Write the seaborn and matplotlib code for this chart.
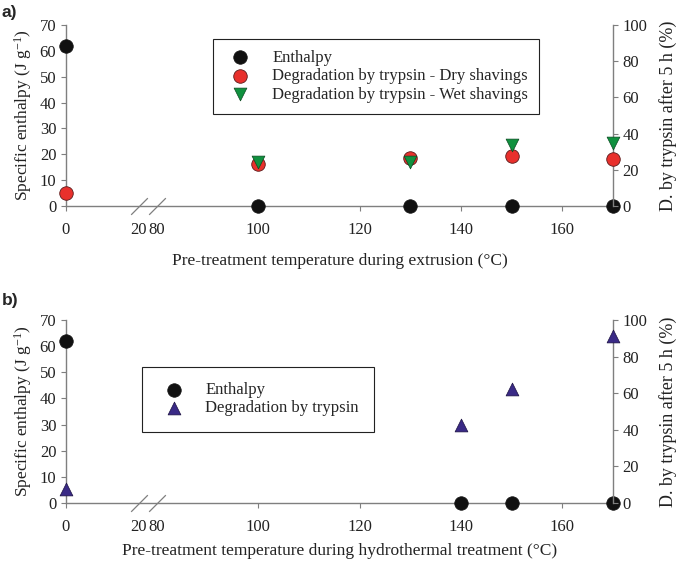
import numpy as np
import pandas as pd
import seaborn as sns
import matplotlib.pyplot as plt
from matplotlib.path import Path

# panel a - extrusion
temp_a = [0, 100, 130, 150, 170]
enthalpy_a = [62, 0, 0, 0, 0]
dry_a = [7, 23, 26.5, 27.5, 26]
wet_a = [None, 24.5, 24.5, 33.5, 35]

# panel b - hydrothermal
temp_b = [0, 140, 150, 170]
enthalpy_b = [62, 0, 0, 0]
tryp_b = [7.5, 42.5, 62.5, 91]

xticks = [0, 20, 80, 100, 120, 140, 160]
xlabels = ["0", "20", "80", "100", "120", "140", "160"]

sns.set_style("ticks")
plt.rcParams['font.family'] = ['Liberation Serif', 'DejaVu Serif']
plt.rcParams['font.size'] = 12
plt.rcParams['mathtext.fontset'] = 'custom'
plt.rcParams['mathtext.rm'] = 'Liberation Serif'
plt.rcParams['mathtext.it'] = 'Liberation Serif:italic'
plt.rcParams['axes.unicode_minus'] = False

# broken x axis: 0-20 squeezed, then gap, then 80-170
brk_in = [0, 20, 80, 170]
brk_out = [0, 14.4, 17.96, 107.96]
def fwd(x):
    return np.interp(x, brk_in, brk_out)
def inv(x):
    return np.interp(x, brk_out, brk_in)

gray = '#7f7f7f'
txt = '#222222'
red = '#e8302c'
green = '#10913f'
purple = '#3a2a86'

slash = Path([(-1, -1), (1, 1)], [Path.MOVETO, Path.LINETO])

fig = plt.figure(figsize=(6.85, 5.64), dpi=100)

def setup(ax, ax2, xlabel, xpad):
    ax.set_xscale('function', functions=(fwd, inv))
    ax.set_xlim(0, 170)
    ax.set_ylim(0, 70)
    ax2.set_ylim(0, 100)
    ax.set_xticks(xticks)
    ax.set_xticklabels(xlabels)
    ax.set_yticks(range(0, 71, 10))
    ax2.set_yticks(range(0, 101, 20))
    for a in (ax, ax2):
        a.spines['top'].set_visible(False)
        for s in a.spines.values():
            s.set_color(gray)
            s.set_linewidth(1.0)
        a.tick_params(colors=gray, labelcolor=txt, length=3.5, width=0.8, labelsize=12)
    ax2.spines['left'].set_visible(False)
    ax2.spines['bottom'].set_visible(False)
    ax.spines['right'].set_visible(False)
    tks = ax.xaxis.get_major_ticks()
    tks[1].tick1line.set_visible(False)
    tks[2].tick1line.set_visible(False)
    ax.tick_params(axis='x', pad=8)
    ax.set_xlabel(xlabel, fontsize=12.5, labelpad=xpad, color=txt)
    ax.set_ylabel("Specific enthalpy (J g$^{\\mathrm{-1}}$)", fontsize=12.5, color=txt)
    # break marks on the x axis
    ax.plot([20, 80], [0, 0], ls='none', marker=slash, ms=12, mec=gray, mew=0.9, clip_on=False)

def right_label(ax2):
    ax2.set_ylabel("D. by trypsin after 5 h (%)", fontsize=13, color=txt, labelpad=8)

def add_legend(ax, ax2, anchor, pad):
    h1, l1 = ax.get_legend_handles_labels()
    h2, l2 = ax2.get_legend_handles_labels()
    if ax.get_legend():
        ax.get_legend().remove()
    leg = ax2.legend(h1 + h2, l1 + l2, loc='upper left', bbox_to_anchor=anchor,
                     bbox_transform=fig.transFigure, borderaxespad=0, fancybox=False,
                     edgecolor=txt, framealpha=1, fontsize=12, labelspacing=0.15,
                     handletextpad=0.9, borderpad=pad)
    leg.get_frame().set_linewidth(0.8)

# ---- panel a
ax = fig.add_axes([66/685, 1-206/564, 547/685, 181/564])
ax2 = ax.twinx()
setup(ax, ax2, "Pre-treatment temperature during extrusion (°C)", 11)
dfa = pd.DataFrame({'temp': temp_a, 'enthalpy': enthalpy_a, 'dry': dry_a, 'wet': wet_a})
sns.scatterplot(data=dfa, x='temp', y='enthalpy', ax=ax, color='#111111', s=95,
                edgecolor='#111111', linewidth=0.5, clip_on=False, zorder=5, label='Enthalpy')
sns.scatterplot(data=dfa, x='temp', y='dry', ax=ax2, color=red, s=95,
                edgecolor='#5a1a1a', linewidth=0.6, clip_on=False, zorder=5,
                label='Degradation by trypsin - Dry shavings')
sns.scatterplot(data=dfa.dropna(), x='temp', y='wet', ax=ax2, color=green, marker='v', s=85,
                edgecolor='#0a4a20', linewidth=0.5, clip_on=False, zorder=6,
                label='Degradation by trypsin - Wet shavings')
right_label(ax2)
add_legend(ax, ax2, (213/685, 1-39/564), 0.65)

# ---- panel b
bx = fig.add_axes([66/685, 1-503/564, 547/685, 183/564])
bx2 = bx.twinx()
setup(bx, bx2, "Pre-treatment temperature during hydrothermal treatment (°C)", 6)
dfb = pd.DataFrame({'temp': temp_b, 'enthalpy': enthalpy_b, 'tryp': tryp_b})
sns.scatterplot(data=dfb, x='temp', y='enthalpy', ax=bx, color='#111111', s=95,
                edgecolor='#111111', linewidth=0.5, clip_on=False, zorder=5, label='Enthalpy')
sns.scatterplot(data=dfb, x='temp', y='tryp', ax=bx2, color=purple, marker='^', s=85,
                edgecolor='#1a1040', linewidth=0.5, clip_on=False, zorder=6,
                label='Degradation by trypsin')
right_label(bx2)
add_legend(bx, bx2, (142/685, 1-367/564), 0.9)

fig.text(0.002, 1-12/564, "a)", fontsize=12.5, fontweight='bold', family='Liberation Sans', va='center')
fig.text(0.002, 1-300/564, "b)", fontsize=12.5, fontweight='bold', family='Liberation Sans', va='center')

fig.savefig("out.png", dpi=100)
